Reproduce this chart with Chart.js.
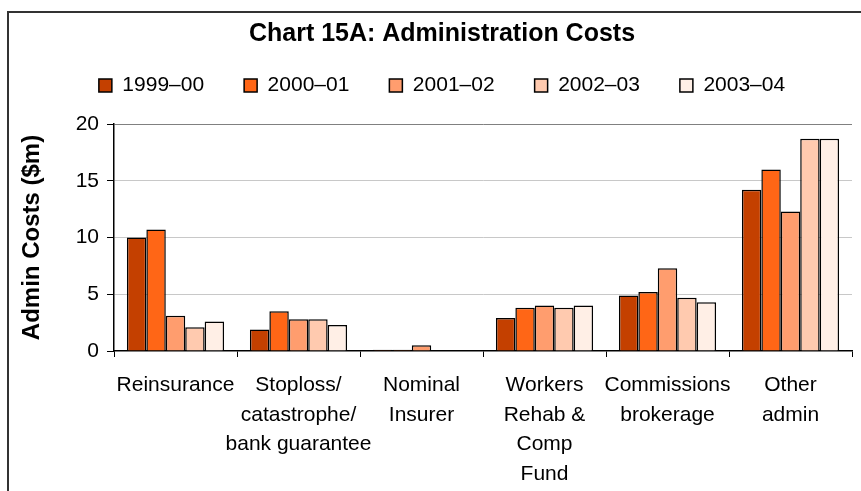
<!DOCTYPE html>
<html lang="en">
<head>
    <meta charset="UTF-8">
    <title>Chart 15A: Administration Costs</title>
    <script src="https://cdn.jsdelivr.net/npm/chart.js"></script>
    <style>
        body { margin: 0; background: #fff; }
        canvas { display: block; }
    </style>
</head>
<body>
    <canvas id="adminChart" width="861" height="491"></canvas>

    <script>
        // Cost categories (multi-line axis labels)
        const categories = [
            "Reinsurance",
            ["Stoploss/", "catastrophe/", "bank guarantee"],
            ["Nominal", "Insurer"],
            ["Workers", "Rehab &", "Comp", "Fund"],
            ["Commissions", "brokerage"],
            ["Other", "admin"]
        ];

        // Admin costs in $m by financial year
        const years = ["1999–00", "2000–01", "2001–02", "2002–03", "2003–04"];
        const fy1999 = [10.0, 1.9, 0.1, 2.9, 4.9, 14.2];
        const fy2000 = [10.7, 3.5, 0.1, 3.8, 5.2, 16.0];
        const fy2001 = [3.1, 2.8, 0.5, 4.0, 7.3, 12.3];
        const fy2002 = [2.1, 2.8, 0, 3.8, 4.7, 18.7];
        const fy2003 = [2.6, 2.3, 0, 4.0, 4.3, 18.7];
        const yTicks = [0, 5, 10, 15, 20];

        const seriesValues = [fy1999, fy2000, fy2001, fy2002, fy2003];
        const fills = ["#C44000", "#FF6616", "#FF9D6E", "#FFCAAF", "#FFEFE6"];

        Chart.defaults.font.family = "'Liberation Sans', Arial, sans-serif";
        Chart.defaults.color = "#000";

        // white background plus the outer frame lines
        const framePlugin = {
            id: "frame",
            beforeUpdate(chart) {
                // legend box takes all the room down to the plot top
                const legend = chart.legend;
                if (legend && !legend._tallFit) {
                    const fit = legend.fit;
                    legend.fit = function () {
                        fit.call(this);
                        this.height = 89;
                    };
                    legend._tallFit = true;
                }
            },
            beforeDraw(chart) {
                const ctx = chart.ctx;
                ctx.save();
                ctx.fillStyle = "#fff";
                ctx.fillRect(0, 0, chart.width, chart.height);
                ctx.strokeStyle = "#333";
                ctx.lineWidth = 2;
                ctx.beginPath();
                ctx.moveTo(8, chart.height);
                ctx.lineTo(8, 12);
                ctx.lineTo(chart.width, 12);
                ctx.stroke();
                ctx.restore();
            }
        };

        const ctx = document.getElementById("adminChart").getContext("2d");
        new Chart(ctx, {
            type: "bar",
            data: {
                labels: categories,
                datasets: years.map((yr, i) => ({
                    label: yr,
                    data: seriesValues[i],
                    backgroundColor: fills[i],
                    borderColor: "#000",
                    borderWidth: 1.5,
                    barPercentage: 1,
                    categoryPercentage: 0.79
                }))
            },
            options: {
                responsive: false,
                animation: false,
                layout: { padding: { left: 32, right: 9, top: 0, bottom: 0 } },
                plugins: {
                    title: {
                        display: true,
                        text: "Chart 15A: Administration Costs",
                        font: { size: 25, weight: "bold" },
                        padding: { top: 19, bottom: -14 }
                    },
                    legend: {
                        labels: {
                            boxWidth: 13,
                            boxHeight: 13,
                            padding: 40,
                            font: { size: 21 }
                        }
                    },
                    tooltip: { enabled: false }
                },
                scales: {
                    x: {
                        grid: {
                            offset: true,
                            drawOnChartArea: false,
                            tickLength: 6,
                            color: "#000"
                        },
                        border: { color: "#000", width: 1.5 },
                        ticks: {
                            autoSkip: false,
                            maxRotation: 0,
                            padding: 14,
                            font: { size: 21, lineHeight: 1.4 }
                        },
                        afterFit(scale) { scale.height = 140; }
                    },
                    y: {
                        min: 0,
                        max: 20,
                        afterBuildTicks(scale) {
                            scale.ticks = yTicks.map(v => ({ value: v }));
                        },
                        grid: {
                            color: c => c.tick.value === 20 ? "#808080" : (c.tick.value === 0 ? "rgba(0,0,0,0)" : "#c8c8c8"),
                            tickColor: "#000",
                            tickLength: 7
                        },
                        border: { color: "#000", width: 1.5 },
                        ticks: {
                            padding: 8,
                            font: { size: 21 }
                        },
                        title: {
                            display: true,
                            text: "Admin Costs ($m)",
                            font: { size: 24, weight: "bold" },
                            padding: { top: -14, bottom: 0 }
                        },
                        afterFit(scale) { scale.width = 82; }
                    }
                }
            },
            plugins: [framePlugin]
        });
    </script>
</body>
</html>
